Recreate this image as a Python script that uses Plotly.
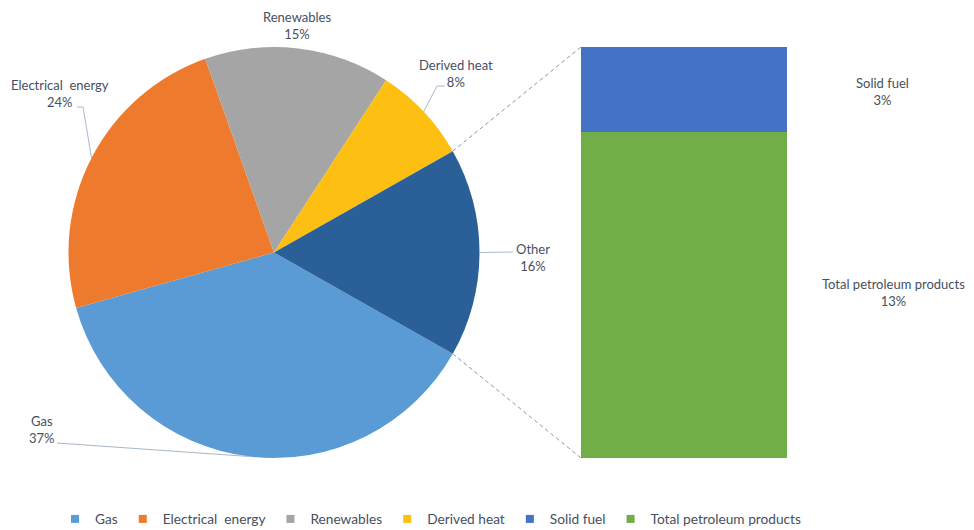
import math
import plotly.graph_objects as go

# ---------------- data ----------------
pie_categories = ["Gas", "Electrical\u00a0 energy", "Renewables", "Derived heat"]
pie_values = [37.4, 23.9, 14.6, 7.6]
bar_categories = ["Solid fuel", "Total petroleum products"]
bar_values = [3.4, 13.0]
other_label = "Other"

# ---------------- style ----------------
pie_colors = ["#5B9BD5", "#EE7A2D", "#A5A5A5", "#FDBF12"]
other_color = "#2A5F97"
bar_colors = ["#4472C4", "#72AE48"]
text_color = "#46505F"
leader_color = "#A9B7CA"
connector_color = "#8497B0"
FONT = "Lato"

# page offset (browser body margin) and figure size
OFF = 8
W, H = 974 - OFF, 530 - OFF

other_value = sum(bar_values)
all_labels = pie_categories + [other_label]
all_values = pie_values + [other_value]
all_colors = pie_colors + [other_color]
total = sum(all_values)

# pie geometry (window pixels)
cx, cy, r = 274.0, 252.5, 205.5
other_deg = other_value / total * 360.0
rotation = 90.0 + other_deg / 2.0  # "Other" slice centred at 3 o'clock


def px_x(x):
    return (x - OFF) / W


def px_y(y):
    return (H - (y - OFF)) / H


def edge_point(phi_deg):
    """phi measured clockwise from 12 o'clock, returns window pixel coords."""
    a = math.radians(phi_deg)
    return cx + r * math.sin(a), cy - r * math.cos(a)


# slice mid angles (clockwise from top)
mids = []
acc = rotation
for v in all_values:
    span = v / total * 360.0
    mids.append(acc + span / 2.0)
    acc += span

# bar geometry
bar_x0, bar_x1, bar_top, bar_bottom = 581.0, 787.0, 47.0, 458.0

fig = go.Figure()

fig.add_trace(go.Pie(
    labels=all_labels,
    values=all_values,
    sort=False,
    direction="clockwise",
    rotation=rotation,
    marker=dict(colors=all_colors, line=dict(width=0)),
    textinfo="none",
    hoverinfo="label+percent",
    showlegend=False,
    domain=dict(x=[px_x(cx - r), px_x(cx + r)], y=[px_y(cy + r), px_y(cy - r)]),
))

# stacked bar (petroleum at the bottom, solid fuel on top)
for name, val, col in reversed(list(zip(bar_categories, bar_values, bar_colors))):
    fig.add_trace(go.Bar(
        x=[0], y=[val], name=name, width=1,
        marker=dict(color=col, line=dict(width=0)),
        showlegend=False, hoverinfo="name+y",
    ))

# legend entries
for name, col in zip(pie_categories + bar_categories, pie_colors + bar_colors):
    fig.add_trace(go.Scatter(
        x=[None], y=[None], mode="markers", name=name,
        marker=dict(symbol="square", size=8, color=col),
        hoverinfo="skip",
    ))

shapes = []
# dashed connectors from the "Other" slice to the bar
top_phi = rotation - other_deg
bot_phi = rotation
for phi, by in ((top_phi, bar_top), (bot_phi, bar_bottom)):
    ex, ey = edge_point(phi)
    shapes.append(dict(type="line", xref="paper", yref="paper",
                       x0=px_x(ex), y0=px_y(ey), x1=px_x(bar_x0), y1=px_y(by),
                       line=dict(color=connector_color, width=1, dash="4px,3px")))


def pct(v):
    return f"{round(v / total * 100):.0f}%"


# label positions (window pixel centres) and leader-line elbows
label_pos = {
    "Gas": (42, 430, [(57, 443)]),
    "Electrical\u00a0 energy": (60, 93.5, [(83, 107), (77, 107)]),
    "Renewables": (297, 25.5, None),
    "Derived heat": (456, 73, [(437, 86), (445, 86)]),
    "Other": (533, 257, [(513, 252)]),
}

annotations = []
for lab, val, mid in zip(all_labels, all_values, mids):
    lx, ly, elbow = label_pos[lab]
    annotations.append(dict(
        x=px_x(lx), y=px_y(ly), xref="paper", yref="paper",
        text=f"{lab}<br>{pct(val)}", showarrow=False, align="center",
        xanchor="center", yanchor="middle",
        font=dict(family=FONT, size=13, color=text_color),
    ))
    if elbow:
        ex, ey = edge_point(mid)
        pts = [(ex, ey)] + elbow
        path = "M " + " L ".join(f"{px_x(x)},{px_y(y)}" for x, y in pts)
        shapes.append(dict(type="path", xref="paper", yref="paper", path=path,
                           line=dict(color=leader_color, width=1)))

bar_label_pos = {"Solid fuel": (882, 91.5), "Total petroleum products": (893, 293)}
for lab, val in zip(bar_categories, bar_values):
    lx, ly = bar_label_pos[lab]
    annotations.append(dict(
        x=px_x(lx), y=px_y(ly), xref="paper", yref="paper",
        text=f"{lab}<br>{pct(val)}", showarrow=False, align="center",
        xanchor="center", yanchor="middle",
        font=dict(family=FONT, size=13, color=text_color),
    ))

fig.update_layout(
    width=W, height=H, autosize=False,
    margin=dict(l=0, r=0, t=0, b=0, autoexpand=False),
    paper_bgcolor="white", plot_bgcolor="white",
    barmode="stack", bargap=0,
    xaxis=dict(domain=[px_x(bar_x0), px_x(bar_x1)], range=[-0.5, 0.5],
               visible=False, fixedrange=True),
    yaxis=dict(domain=[px_y(bar_bottom), px_y(bar_top)], range=[0, other_value],
               visible=False, fixedrange=True),
    legend=dict(orientation="h", traceorder="normal",
                x=px_x(431), xanchor="center",
                y=px_y(519), yanchor="middle",
                font=dict(family=FONT, size=13.7, color=text_color),
                bgcolor="rgba(0,0,0,0)", itemclick=False, itemdoubleclick=False),
    shapes=shapes,
    annotations=annotations,
    font=dict(family=FONT),
)

fig.write_html("out.html")
